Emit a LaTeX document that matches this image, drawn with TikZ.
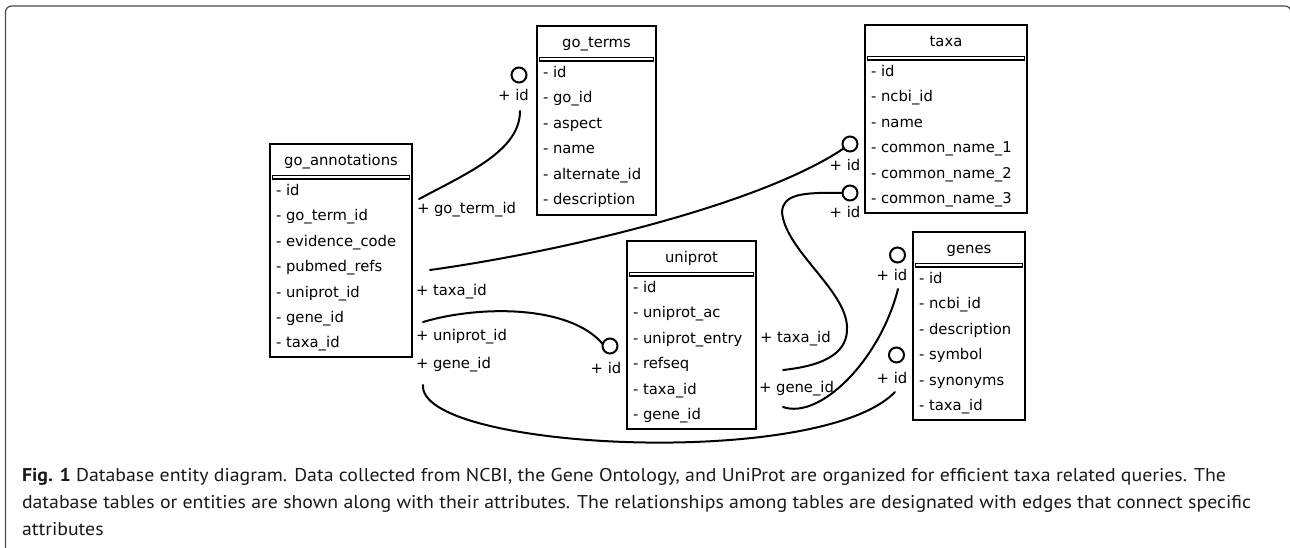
\documentclass[tikz,border=0pt]{standalone}
\usepackage{fontspec}
\usetikzlibrary{calc}
\newfontfamily\dbfont{DejaVu Sans}
\newfontfamily\capfont{PT Sans}
\newlength\capwd
\newcommand\capsize{\fontsize{18.5}{22}\selectfont}
\newcommand\capa{\textbf{Fig. 1} Database entity diagram. Data collected from NCBI, the Gene Ontology, and UniProt are organized for efficient taxa related queries. The}
\newcommand\capb{database tables or entities are shown along with their attributes. The relationships among tables are designated with edges that connect specific}
\newcommand\capc{attributes}

% one entity table: #1 name, #2 left x, #3 top y, #4 width, #5 height, #6 title, #7 attribute list
\newcommand\dbtable[7]{%
  \node[tablebox, minimum width=#4pt, minimum height=#5pt] (#1) at (#2,#3) {};
  \node[dbtext, anchor=base] (#1-title) at ($(#1.north)+(0,21.5)$) {#6};
  \draw[sepbar] ($(#1.north west)+(2.6,31.5)$) rectangle ($(#1.north east)+(-2.6,35)$);
  \foreach \attr [count=\i] in {#7} {
    \node[dbtext, anchor=base west] (#1-\i) at ($(#1.north west)+(6,{51.5+(\i-1)*25.4})$) {- \attr};
  }%
}

\begin{document}
% horizontal scale that sets the caption to its column width
\settowidth\capwd{\capfont\capsize\capb}
\pgfmathsetmacro\capsx{1229pt/\capwd}
\begin{tikzpicture}[x=1pt,y=-1pt,
  tablebox/.style={draw, line width=2pt, inner sep=0pt, outer sep=0pt, anchor=north west},
  sepbar/.style={draw, fill=white, line width=1.5pt},
  dbtext/.style={font=\dbfont\fontsize{14.8}{17}\selectfont, inner sep=0pt, outer sep=0pt},
  keylabel/.style={dbtext, anchor=base west},
  idlabel/.style={dbtext, anchor=base},
  keycircle/.style={draw, circle, line width=2pt, minimum size=15pt, inner sep=0pt, outer sep=0pt},
  link/.style={line width=2pt, line cap=round},
  frame/.style={line width=1.2pt, draw=black!70, rounded corners=6pt},
  captext/.style={font=\capfont\capsize, inner sep=0pt, outer sep=0pt, anchor=base west, text=black!90}]

\useasboundingbox (0,0) rectangle (1290,548);

% outer frame of the figure panel
\begin{scope}
  \clip (0,0) rectangle (1290,548);
  \draw[frame] (5.5,570) -- (5.5,6) -- (1291,6) -- (1291,570);
\end{scope}

% entity tables
\dbtable{goterms}{537}{26}{119}{189}{go\_terms}{id,go\_id,aspect,name,alternate\_id,description}
\dbtable{goann}{270}{144}{142}{213}{go\_annotations}{id,go\_term\_id,evidence\_code,pubmed\_refs,uniprot\_id,gene\_id,taxa\_id}
\dbtable{taxa}{865}{25}{162}{188}{taxa}{id,ncbi\_id,name,common\_name\_1,common\_name\_2,common\_name\_3}
\dbtable{uniprot}{627}{241}{129}{188}{uniprot}{id,uniprot\_ac,uniprot\_entry,refseq,taxa\_id,gene\_id}
\dbtable{genes}{913}{232}{112}{188}{genes}{id,ncbi\_id,description,symbol,synonyms,taxa\_id}

% key ends (circles) with their labels
\node[keycircle] (c-goterms) at (519,75) {};
\node[idlabel] (l-goterms) at (513.5,100.5) {+ id};
\node[keycircle] (c-taxa1) at (850,144) {};
\node[idlabel] (l-taxa1) at (845,170.5) {+ id};
\node[keycircle] (c-taxa2) at (850,193) {};
\node[idlabel] (l-taxa2) at (845,217.5) {+ id};
\node[keycircle] (c-uniprot) at (610,346) {};
\node[idlabel] (l-uniprot) at (606,373.5) {+ id};
\node[keycircle] (c-genes1) at (897.5,255) {};
\node[idlabel] (l-genes1) at (892,280.5) {+ id};
\node[keycircle] (c-genes2) at (896.5,355) {};
\node[idlabel] (l-genes2) at (892,383.5) {+ id};

% foreign key labels
\node[keylabel] (k-goterm) at (417,214) {+ go\_term\_id};
\node[keylabel] (k-anntaxa) at (416,295.5) {+ taxa\_id};
\node[keylabel] (k-annuni) at (416,340) {+ uniprot\_id};
\node[keylabel] (k-anngene) at (416,368) {+ gene\_id};
\node[keylabel] (k-unitaxa) at (760,342.5) {+ taxa\_id};
\node[keylabel] (k-unigene) at (759,392) {+ gene\_id};

% free ends of the relationship curves
\coordinate (e-goterm) at (419,199);
\coordinate (e-goterms) at (520,111);
\coordinate (e-anntaxa) at (430,270);
\coordinate (e-annuni) at (423,322);
\coordinate (e-anngene) at (423,385);
\coordinate (e-genes2) at (895,392);
\coordinate (e-unitaxa) at (783,370);
\coordinate (e-unigene) at (783,407);
\coordinate (e-genes1) at (898,289);

% relationships
\draw[link] (e-goterm) .. controls (470,172) and (520,150) .. (e-goterms);
\draw[link] (e-anntaxa) .. controls (560,252) and (760,205) .. (c-taxa1.215);
\draw[link] (e-annuni) .. controls (480,305) and (570,305) .. (c-uniprot.165);
\draw[link] (e-anngene) .. controls (418,450) and (820,470) .. (e-genes2);
\draw[link] (e-unitaxa) .. controls (830,365) and (848,350) .. (847,327)
  .. controls (846,290) and (785,250) .. (782,212)
  .. controls (783,195) and (800,192) .. (c-taxa2.west);
\draw[link] (e-unigene) .. controls (820,420) and (880,360) .. (e-genes1);

% caption
\node[captext] (cap1) at (22,481) {\scalebox{\capsx}[1]{\capa}};
\node[captext] (cap2) at (22,508) {\scalebox{\capsx}[1]{\capb}};
\node[captext] (cap3) at (22,535) {\scalebox{\capsx}[1]{\capc}};
\end{tikzpicture}
\end{document}
